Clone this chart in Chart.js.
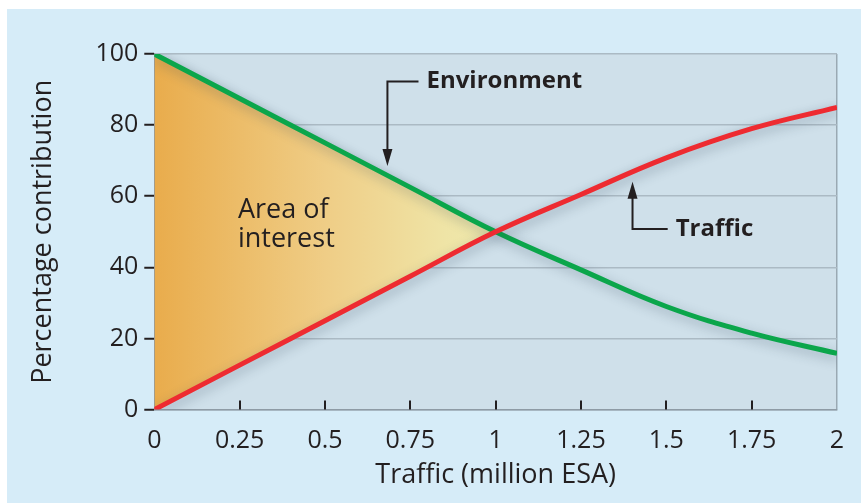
<!DOCTYPE html>
<html>
<head>
<meta charset="utf-8">
<script src="https://cdn.jsdelivr.net/npm/chart.js@4.4.0/dist/chart.umd.min.js"></script>
<style>
html, body { margin: 0; background: #fff; }
#wrap { position: absolute; left: 7px; top: 9px; width: 854px; height: 494px; background: #d6ecf8; }
</style>
</head>
<body>
<div id="wrap"><canvas id="myChart" width="854" height="494"></canvas></div>
<script>
const trafficESA = [0, 0.25, 0.5, 0.75, 1, 1.25, 1.5, 1.75, 2];
const environment = [100, 87.5, 75, 62.5, 50, 39.3, 29, 21.5, 15.8];
const trafficShare = [0, 12.5, 25, 37.5, 50, 60.5, 70.8, 79, 85];
const xTicks = [0, 0.25, 0.5, 0.75, 1, 1.25, 1.5, 1.75, 2];
const yTicks = [0, 20, 40, 60, 80, 100];

// callouts in data units: arrow tip, elbow, end of the leg
const envNote = { text: 'Environment', tip: [0.683, 68.5], elbow: [0.683, 92.3], end: [0.774, 92.3] };
const trafficNote = { text: 'Traffic', tip: [1.401, 64.1], elbow: [1.401, 50.8], end: [1.504, 50.8] };
const areaNote = { lines: ['Area of', 'interest'], x: 0.245, y: [56, 47.8] };

const FONT = '"Open Sans", sans-serif';
const INK = '#231f20';

function areaGradient(chart) {
    const area = chart.chartArea;
    if (!area) return 'rgba(0,0,0,0)';
    const x = chart.scales.x;
    const g = chart.ctx.createLinearGradient(x.getPixelForValue(0), 0, x.getPixelForValue(1), 0);
    g.addColorStop(0, '#e9ac4c');
    g.addColorStop(0.5, '#efcd86');
    g.addColorStop(0.85, '#efe4a6');
    g.addColorStop(1, '#eee9ad');
    return g;
}

const plotBg = {
    id: 'plotBg',
    beforeDraw(chart) {
        const {ctx, chartArea: a} = chart;
        ctx.save();
        ctx.fillStyle = '#cfe0ea';
        ctx.fillRect(a.left, a.top, a.right - a.left, a.bottom - a.top);
        ctx.restore();
    }
};

const shadow = {
    id: 'shadow',
    beforeDatasetsDraw(chart) {
        const ctx = chart.ctx;
        ctx.save();
        ctx.shadowColor = 'rgba(40,60,80,0.35)';
        ctx.shadowBlur = 12;
        ctx.shadowOffsetX = 2;
        ctx.shadowOffsetY = 4;
    },
    afterDatasetsDraw(chart) {
        chart.ctx.restore();
    }
};

const inwardTicks = {
    id: 'inwardTicks',
    afterDatasetsDraw(chart) {
        const {ctx, scales: {x, y}} = chart;
        const base = y.getPixelForValue(0);
        ctx.save();
        ctx.strokeStyle = INK;
        ctx.lineWidth = 2;
        xTicks.slice(1, -1).forEach(v => {
            const px = Math.round(x.getPixelForValue(v));
            ctx.beginPath();
            ctx.moveTo(px, base);
            ctx.lineTo(px, base - 9);
            ctx.stroke();
        });
        ctx.restore();
    }
};

function drawCallout(chart, note, dir) {
    const {ctx, scales: {x, y}} = chart;
    const tip = [x.getPixelForValue(note.tip[0]), y.getPixelForValue(note.tip[1])];
    const elbow = [x.getPixelForValue(note.elbow[0]), y.getPixelForValue(note.elbow[1])];
    const end = [x.getPixelForValue(note.end[0]), y.getPixelForValue(note.end[1])];
    ctx.save();
    ctx.strokeStyle = INK;
    ctx.fillStyle = INK;
    ctx.lineWidth = 2;
    ctx.beginPath();
    ctx.moveTo(end[0], end[1]);
    ctx.lineTo(elbow[0], elbow[1]);
    ctx.lineTo(tip[0], tip[1] - dir * 14);
    ctx.stroke();
    ctx.beginPath();
    ctx.moveTo(tip[0], tip[1]);
    ctx.lineTo(tip[0] - 5, tip[1] - dir * 17);
    ctx.lineTo(tip[0] + 5, tip[1] - dir * 17);
    ctx.closePath();
    ctx.fill();
    ctx.font = 'bold 24px ' + FONT;
    ctx.textBaseline = 'middle';
    ctx.textAlign = 'left';
    ctx.fillText(note.text, end[0] + 8, end[1]);
    ctx.restore();
}

const notes = {
    id: 'notes',
    afterDraw(chart) {
        const {ctx, scales: {x, y}} = chart;
        drawCallout(chart, envNote, 1);
        drawCallout(chart, trafficNote, -1);
        ctx.save();
        ctx.fillStyle = INK;
        ctx.font = '27px ' + FONT;
        ctx.textBaseline = 'middle';
        areaNote.lines.forEach((t, i) => {
            ctx.fillText(t, x.getPixelForValue(areaNote.x), y.getPixelForValue(areaNote.y[i]));
        });
        ctx.restore();
    }
};

const ctx = document.getElementById('myChart').getContext('2d');
const myChart = new Chart(ctx, {
    type: 'line',
    data: {
        datasets: [{
            label: 'Environment',
            data: trafficESA.map((v, i) => ({x: v, y: environment[i]})),
            borderColor: '#0ba64b',
            borderWidth: 5,
            pointRadius: 0,
            tension: 0.4,
            order: 1,
            fill: {target: 1, below: 'rgba(0,0,0,0)'},
            backgroundColor: c => areaGradient(c.chart)
        }, {
            label: 'Traffic',
            data: trafficESA.map((v, i) => ({x: v, y: trafficShare[i]})),
            borderColor: '#ee2b31',
            borderWidth: 5,
            pointRadius: 0,
            tension: 0.4,
            order: 0,
            fill: false
        }]
    },
    options: {
        responsive: false,
        animation: false,
        layout: { padding: { top: 45, right: 24, left: 20, bottom: 11 } },
        plugins: { legend: { display: false }, tooltip: { enabled: false } },
        scales: {
            x: {
                type: 'linear', min: 0, max: 2,
                afterBuildTicks: s => { s.ticks = xTicks.map(v => ({value: v})); },
                ticks: { font: { family: FONT, size: 25 }, color: INK, padding: 16, callback: v => String(v), maxRotation: 0 },
                grid: { drawTicks: false, lineWidth: 1.5, color: c => (c.tick && c.tick.value === 2) ? '#9aa9b3' : 'rgba(0,0,0,0)' },
                border: { color: '#8e9ba5', width: 1.5 },
                title: { display: true, text: 'Traffic (million ESA)', font: { family: FONT, size: 27 }, color: INK, padding: { top: -12, bottom: 0 } }
            },
            y: {
                min: 0, max: 100,
                afterBuildTicks: s => { s.ticks = yTicks.map(v => ({value: v})); },
                ticks: { font: { family: FONT, size: 25 }, color: INK, padding: 6 },
                grid: { color: '#abbac4', lineWidth: 1.5, tickColor: INK, tickLength: 10, tickWidth: 2 },
                border: { color: '#8e9ba5', width: 1.5 },
                title: { display: true, text: 'Percentage contribution', font: { family: FONT, size: 27 }, color: INK, padding: { top: 0, bottom: 30 } }
            }
        }
    },
    plugins: [plotBg, shadow, inwardTicks, notes]
});
</script>
</body>
</html>
